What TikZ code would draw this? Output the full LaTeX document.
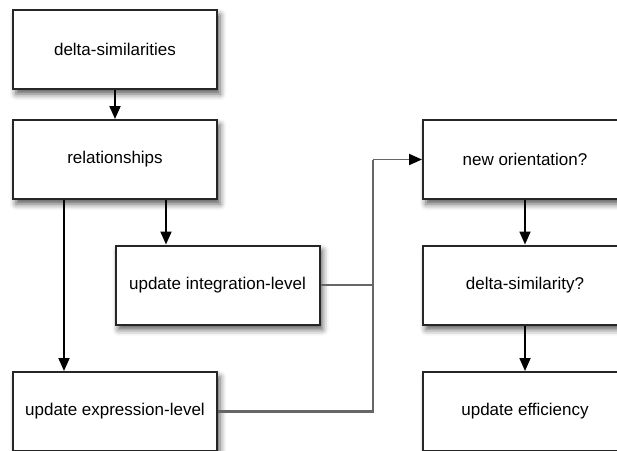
\documentclass[tikz,border=0pt]{standalone}
\usepackage{fontspec}
\setmainfont{Liberation Sans}
\usetikzlibrary{arrows.meta,shadows.blur}
\begin{document}
\begin{tikzpicture}[x=1pt,y=-1pt,
  box/.style={draw=black!85,line width=2pt,fill=white,minimum width=204pt,minimum height=79pt,inner sep=0pt,
    font=\fontsize{17}{20}\selectfont,
    blur shadow={shadow xshift=3pt,shadow yshift=-5pt,shadow blur radius=6pt,shadow opacity=65}},
  arr/.style={draw=black,line width=1.8pt,-{Triangle[width=11pt,length=13pt,color=black]}},
  link/.style={draw=black!60,line width=2.2pt}]
\useasboundingbox (0,0) rectangle (617,450);
\node[box] (ds) at (115,49.5) {delta-similarities};
\node[box] (rel) at (115,159.5) {relationships};
\node[box] (uil) at (217.5,285) {update integration-level};
\node[box] (uel) at (115,411.5) {update expression-level};
\node[box] (no) at (525,159.5) {new orientation?};
\node[box] (dsq) at (525,285) {delta-similarity?};
\node[box] (ue) at (525,411.5) {update efficiency};
\coordinate (j) at (373,159.5);
\draw[arr] (ds) -- (rel);
\draw[arr] ([xshift=-51pt]rel.south) -- ([xshift=-51pt]rel.south |- uel.north);
\draw[arr] ([xshift=51pt]rel.south) -- ([xshift=51pt]rel.south |- uil.north);
\draw[link] (uil.east) -- (uil.east -| j);
\draw[link] (uel.east) -| (j);
\draw[arr,draw=black!60] (j) -- (no.west);
\draw[arr] (no) -- (dsq);
\draw[arr] (dsq) -- (ue);
\end{tikzpicture}
\end{document}
